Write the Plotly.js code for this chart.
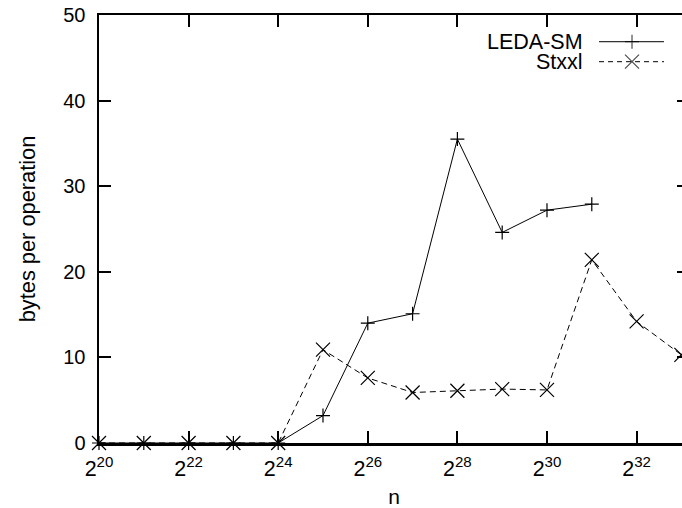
<!DOCTYPE html>
<html>
<head>
<meta charset="utf-8">
<script src="https://cdn.plot.ly/plotly-3.0.1.min.js"></script>
<style>
  html, body { margin: 0; padding: 0; overflow: hidden; background: #fff; }
  #chart { width: 689px; height: 508px; }
</style>
</head>
<body>
<div id="chart"></div>
<script>
// Data: x is the exponent k of n = 2^k
const ledaExp   = [20, 21, 22, 23, 24, 25, 26, 27, 28, 29, 30, 31];
const ledaVals  = [0, 0, 0, 0, 0, 3.2, 14.0, 15.1, 35.5, 24.6, 27.2, 27.9];
const stxxlExp  = [20, 21, 22, 23, 24, 25, 26, 27, 28, 29, 30, 31, 32, 33];
const stxxlVals = [0, 0, 0, 0, 0, 10.9, 7.6, 5.9, 6.1, 6.3, 6.2, 21.4, 14.2, 10.3];
const seriesNames = ['LEDA-SM', 'Stxxl'];

const xTickVals = [20, 22, 24, 26, 28, 30, 32];
const xTickText = ['2<sup>20</sup>', '2<sup>22</sup>', '2<sup>24</sup>', '2<sup>26</sup>',
                   '2<sup>28</sup>', '2<sup>30</sup>', '2<sup>32</sup>'];
const yTickVals = [0, 10, 20, 30, 40, 50];
const yTickText = ['0', '10', '20', '30', '40', '50'];

const FONT = 'Liberation Sans, Arial, Helvetica, sans-serif';

const traces = [
  {
    x: ledaExp, y: ledaVals, type: 'scatter', mode: 'lines+markers', name: seriesNames[0],
    line: { color: '#000', width: 1 },
    marker: { symbol: 'cross-thin-open', size: 10, color: '#000', line: { color: '#000', width: 1.2 } },
    cliponaxis: false, showlegend: false
  },
  {
    x: stxxlExp, y: stxxlVals, type: 'scatter', mode: 'lines+markers', name: seriesNames[1],
    line: { color: '#000', width: 1, dash: '6px,4px' },
    marker: { symbol: 'x-thin-open', size: 14, color: '#000', line: { color: '#000', width: 1.2 } },
    cliponaxis: false, showlegend: false
  },
  // legend samples (on a hidden overlay axis in [0,1] coordinates)
  {
    x: [0.8475, 0.9034, 0.9576], y: [0.9376, 0.9376, 0.9376], xaxis: 'x2', yaxis: 'y2',
    type: 'scatter', mode: 'lines+markers', hoverinfo: 'skip', showlegend: false,
    line: { color: '#000', width: 1 },
    marker: { symbol: 'cross-thin-open', size: [0, 10, 0], color: '#000', line: { color: '#000', width: 1.2 } },
    cliponaxis: false
  },
  {
    x: [0.8475, 0.9034, 0.9576], y: [0.8909, 0.8909, 0.8909], xaxis: 'x2', yaxis: 'y2',
    type: 'scatter', mode: 'lines+markers', hoverinfo: 'skip', showlegend: false,
    line: { color: '#000', width: 1, dash: '5px,4px' },
    marker: { symbol: 'x-thin-open', size: [0, 14, 0], color: '#000', line: { color: '#000', width: 1.2 } },
    cliponaxis: false
  }
];

const axisCommon = {
  ticks: 'inside', ticklen: 12, tickwidth: 2, tickcolor: '#000',
  showline: true, linewidth: 2.5, linecolor: '#000', mirror: 'ticks',
  showgrid: false, zeroline: false,
  tickfont: { family: FONT, size: 20, color: '#000' }
};

const layout = {
  width: 689, height: 508,
  margin: { l: 99, r: 0, t: 15, b: 65 },
  paper_bgcolor: '#fff', plot_bgcolor: '#fff',
  font: { family: FONT, size: 20, color: '#000' },
  showlegend: false,
  xaxis: Object.assign({}, axisCommon, {
    range: [20, 33.17], tickmode: 'array', tickvals: xTickVals, ticktext: xTickText,
    tickfont: { family: FONT, size: 21.5, color: '#000' },
    ticklabelstandoff: 5,
    title: { text: 'n', font: { family: FONT, size: 21, color: '#000' }, standoff: 19 }
  }),
  yaxis: Object.assign({}, axisCommon, {
    range: [0, 50], tickmode: 'array', tickvals: yTickVals, ticktext: yTickText,
    ticklabelstandoff: 7,
    title: { text: 'bytes per operation', font: { family: FONT, size: 21.8, color: '#000' }, standoff: 22 }
  }),
  xaxis2: { overlaying: 'x', range: [0, 1], visible: false, fixedrange: true },
  yaxis2: { overlaying: 'y', range: [0, 1], visible: false, fixedrange: true },
  annotations: [
    { xref: 'x2', yref: 'y2', x: 0.8237, y: 0.9376, text: seriesNames[0], showarrow: false,
      xanchor: 'right', yanchor: 'middle', font: { family: FONT, size: 21.5, color: '#000' } },
    { xref: 'x2', yref: 'y2', x: 0.8237, y: 0.8909, text: seriesNames[1], showarrow: false,
      xanchor: 'right', yanchor: 'middle', font: { family: FONT, size: 21.5, color: '#000' } }
  ]
};

Plotly.newPlot('chart', traces, layout, { displayModeBar: false, staticPlot: true });
</script>
</body>
</html>
